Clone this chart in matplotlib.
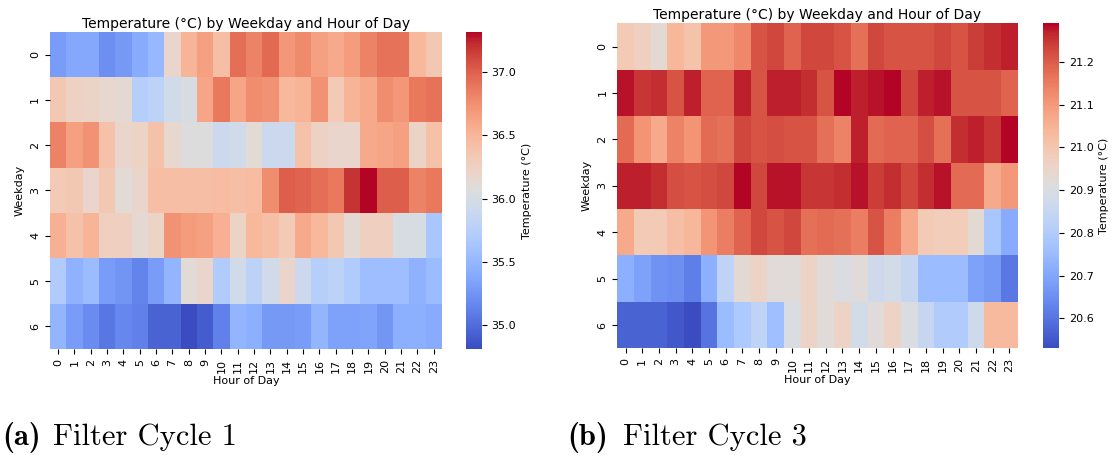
import numpy as np
import pandas as pd
import matplotlib
matplotlib.use("Agg")
import matplotlib.pyplot as plt
import seaborn as sns

hours = list(range(24))
weekdays = list(range(7))

# filter cycle 1, mean temperature (°C) per weekday (rows) and hour (cols)
cycle1_day0 = [35.30, 35.38, 35.38, 35.21, 35.28, 35.40, 35.51, 36.19, 36.51, 36.65, 36.43, 36.93, 36.82, 36.96, 36.71, 36.79, 36.65, 36.59, 36.68, 36.82, 36.91, 36.91, 36.48, 36.34]
cycle1_day1 = [36.34, 36.24, 36.22, 36.17, 36.14, 35.74, 35.79, 35.95, 36.01, 36.62, 36.88, 36.62, 36.77, 36.74, 36.48, 36.51, 36.74, 36.32, 36.51, 36.59, 36.77, 36.71, 36.88, 36.91]
cycle1_day2 = [36.82, 36.65, 36.74, 36.40, 36.19, 36.22, 36.40, 36.17, 36.07, 36.07, 35.90, 35.95, 36.12, 35.90, 35.90, 36.40, 36.24, 36.19, 36.19, 36.59, 36.62, 36.65, 36.22, 36.40]
cycle1_day3 = [36.32, 36.34, 36.19, 36.34, 36.12, 36.19, 36.43, 36.43, 36.43, 36.43, 36.45, 36.43, 36.45, 36.77, 37.01, 36.99, 36.93, 36.88, 37.20, 37.32, 37.01, 37.01, 36.82, 36.88]
cycle1_day4 = [36.54, 36.40, 36.51, 36.27, 36.27, 36.14, 36.22, 36.74, 36.68, 36.65, 36.54, 36.22, 36.48, 36.43, 36.32, 36.59, 36.48, 36.34, 36.14, 36.27, 36.27, 36.01, 36.01, 35.65]
cycle1_day5 = [35.70, 35.46, 35.54, 35.30, 35.25, 35.14, 35.30, 35.48, 36.12, 36.19, 35.70, 35.95, 35.79, 35.95, 36.19, 35.90, 35.74, 35.79, 35.70, 35.56, 35.56, 35.56, 35.46, 35.54]
cycle1_day6 = [35.48, 35.30, 35.19, 35.06, 35.16, 35.12, 34.94, 34.94, 34.81, 34.90, 35.12, 35.48, 35.43, 35.28, 35.28, 35.30, 35.48, 35.33, 35.33, 35.35, 35.26, 35.43, 35.43, 35.40]

# filter cycle 3
cycle3_day0 = [20.99, 20.97, 20.93, 21.04, 21.01, 21.10, 21.10, 21.13, 21.21, 21.23, 21.19, 21.23, 21.23, 21.21, 21.17, 21.23, 21.21, 21.21, 21.21, 21.23, 21.21, 21.24, 21.26, 21.27]
cycle3_day1 = [21.28, 21.25, 21.26, 21.21, 21.27, 21.19, 21.19, 21.27, 21.21, 21.27, 21.27, 21.26, 21.21, 21.29, 21.27, 21.28, 21.29, 21.23, 21.27, 21.28, 21.21, 21.21, 21.21, 21.19]
cycle3_day2 = [21.18, 21.11, 21.07, 21.14, 21.11, 21.18, 21.17, 21.23, 21.21, 21.22, 21.21, 21.21, 21.17, 21.14, 21.27, 21.18, 21.19, 21.19, 21.22, 21.17, 21.26, 21.27, 21.25, 21.29]
cycle3_day3 = [21.27, 21.27, 21.26, 21.22, 21.21, 21.22, 21.23, 21.29, 21.23, 21.28, 21.28, 21.25, 21.25, 21.26, 21.28, 21.24, 21.26, 21.23, 21.26, 21.28, 21.18, 21.18, 21.07, 21.10]
cycle3_day4 = [21.07, 20.99, 20.99, 21.02, 21.04, 21.11, 21.15, 21.19, 21.23, 21.21, 21.23, 21.17, 21.18, 21.17, 21.15, 21.21, 21.15, 21.07, 20.99, 20.98, 20.98, 20.93, 20.78, 20.71]
cycle3_day5 = [20.72, 20.69, 20.66, 20.65, 20.62, 20.72, 20.83, 20.93, 20.96, 20.92, 20.92, 20.96, 20.92, 20.90, 20.92, 20.87, 20.88, 20.85, 20.75, 20.75, 20.75, 20.69, 20.67, 20.61]
cycle3_day6 = [20.57, 20.57, 20.57, 20.55, 20.53, 20.60, 20.75, 20.79, 20.83, 20.76, 20.90, 20.96, 20.92, 20.96, 20.88, 20.92, 20.96, 20.90, 20.85, 20.80, 20.80, 20.87, 21.03, 21.03]

cycle1 = pd.DataFrame([cycle1_day0, cycle1_day1, cycle1_day2, cycle1_day3,
                       cycle1_day4, cycle1_day5, cycle1_day6], index=weekdays, columns=hours)
cycle3 = pd.DataFrame([cycle3_day0, cycle3_day1, cycle3_day2, cycle3_day3,
                       cycle3_day4, cycle3_day5, cycle3_day6], index=weekdays, columns=hours)

plt.rcParams["axes.unicode_minus"] = False

fig = plt.figure(figsize=(11.15, 4.55), dpi=100)

ax1 = fig.add_axes([0.0448, 0.233, 0.3516, 0.697])
cax1 = fig.add_axes([0.418, 0.233, 0.0141, 0.697])
ax2 = fig.add_axes([0.5536, 0.2345, 0.3591, 0.7143])
cax2 = fig.add_axes([0.9351, 0.2345, 0.0146, 0.7143])

for ax, cax, df in [(ax1, cax1, cycle1), (ax2, cax2, cycle3)]:
    sns.heatmap(df, cmap="coolwarm", ax=ax, cbar_ax=cax,
                cbar_kws={"label": "Temperature (°C)"})
    ax.set_title("Temperature (°C) by Weekday and Hour of Day", fontsize=10, pad=3)
    ax.set_xlabel("Hour of Day", fontsize=8, labelpad=2)
    ax.set_ylabel("Weekday", fontsize=8, labelpad=4)
    ax.tick_params(labelsize=8)
    ax.set_xticklabels(ax.get_xticklabels(), rotation=90)
    ax.set_yticklabels(ax.get_yticklabels(), rotation=90, va="center")
    cax.tick_params(labelsize=8)
    cax.yaxis.label.set_size(8)

# sub-figure captions (LaTeX look)
fig.text(0.002, 0.022, "(a)", fontfamily="cmb10", fontsize=22)
fig.text(0.0475, 0.022, "Filter Cycle 1", fontfamily="cmr10", fontsize=22)
fig.text(0.509, 0.022, "(b)", fontfamily="cmb10", fontsize=22)
fig.text(0.5587, 0.022, "Filter Cycle 3", fontfamily="cmr10", fontsize=22)

fig.savefig("out.png", dpi=100)
